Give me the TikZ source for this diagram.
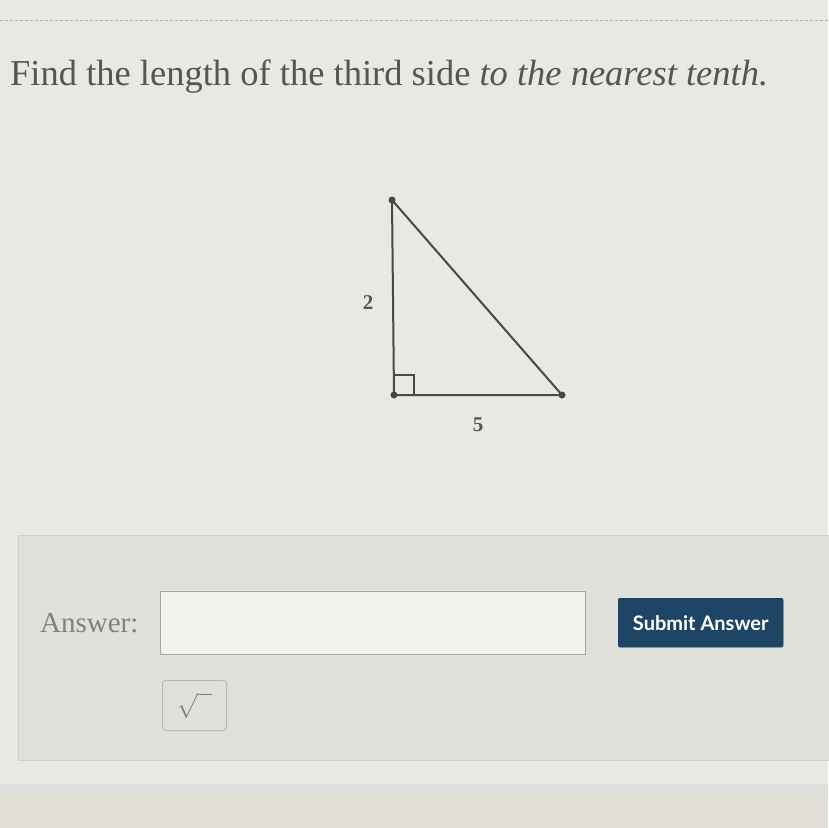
\documentclass[tikz,border=0pt]{standalone}
\usepackage{fontspec}
\setmainfont{Liberation Serif}
\newfontfamily\btnfont{Lato}
\usetikzlibrary{positioning}

\definecolor{pagebg}{RGB}{232,233,227}
\definecolor{panelbg}{RGB}{225,225,219}
\definecolor{panelline}{RGB}{208,208,202}
\definecolor{deskbg}{RGB}{224,222,214}
\definecolor{inkgray}{RGB}{85,85,85}
\definecolor{sidecol}{RGB}{78,70,64}
\definecolor{btnblue}{RGB}{30,68,102}

\begin{document}
\begin{tikzpicture}[
x = 1pt, y = 1pt, % one unit per pixel
sidestyle/.style = {draw = sidecol, line width = 2pt},
vertexdot/.style = {circle, fill = sidecol, inner sep = 0pt, minimum size = 7pt},
sidelabel/.style = {text = inkgray, font = \fontsize{21}{21}\selectfont\bfseries},
fieldbox/.style = {draw = gray!70, line width = 1pt, inner sep = 0pt},
]

\useasboundingbox (0,0) rectangle (828,-828);

% screen background
\fill[pagebg] (0,0) rectangle (828,-784);
\fill[deskbg] (0,-784) rectangle (828,-828);
\fill[black!12] (0,-784) rectangle (828,-790);
\draw[gray!60, line width = 0.8pt, dash pattern = on 3pt off 2pt] (0,-20) -- (828,-20);

% question
\node[anchor = base west, inner sep = 0pt, text = inkgray,
      font = \fontsize{36.5}{36.5}\selectfont] (question) at (10,-85)
  {Find the length of the third side \textit{to the nearest tenth.}};

% triangle
\coordinate (top) at (392,-200);
\coordinate (corner) at (394,-395);
\coordinate (right) at (562,-395);
\draw[sidestyle, line join = round] (top) -- (corner) -- (right) -- cycle;
\draw[sidecol, line width = 1.4pt] ([yshift = 20]corner) -| ([xshift = 20]corner);
\node[vertexdot] (topdot) at (top) {};
\node[vertexdot] (cornerdot) at (corner) {};
\node[vertexdot] (rightdot) at (right) {};
\node[sidelabel] (lenA) at (368,-303) {2};
\node[sidelabel] (lenB) at (478,-425) {5};

% answer panel
\draw[panelline, fill = panelbg, line width = 1pt] (18,-535) rectangle (840,-760);
\node[anchor = west, inner sep = 0pt, text = gray,
      font = \fontsize{29}{29}\selectfont] (answer) at (40,-623) {Answer:};
\node[fieldbox, fill = pagebg!60!white, minimum width = 425, minimum height = 63,
      anchor = north west] (field) at (160,-591) {};
\node[fill = btnblue, draw = btnblue!80!black, rounded corners = 2pt, text = white,
      minimum width = 165, minimum height = 49, anchor = north west,
      font = \fontsize{20}{20}\selectfont\btnfont\bfseries] (submit) at (618,-598) {Submit Answer};
\node[fieldbox, draw = gray!55, rounded corners = 3pt, minimum width = 64, minimum height = 50,
      anchor = north west, text = gray, font = \fontsize{26}{26}\selectfont] (sqrtbtn) at (162,-680)
  {$\sqrt{\phantom{x}}$};

\end{tikzpicture}
\end{document}
